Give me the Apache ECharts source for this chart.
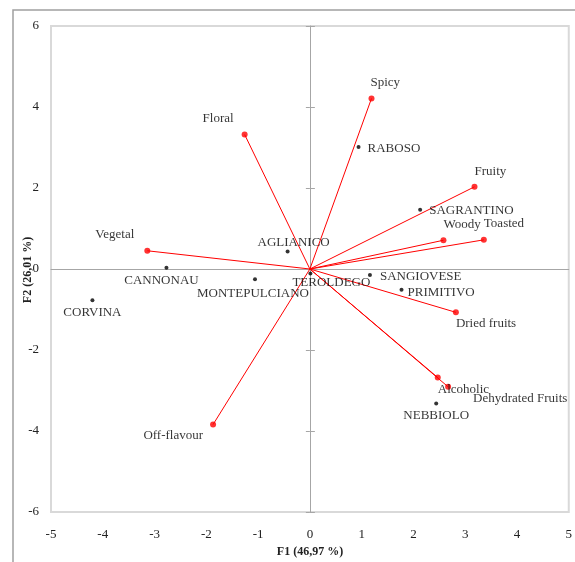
<!DOCTYPE html>
<html>
<head>
<meta charset="utf-8">
<script src="https://cdn.jsdelivr.net/npm/echarts@6/dist/echarts.min.js"></script>
<style>
html,body{margin:0;padding:0;background:#fff;}
#chart{width:575px;height:562px;}
</style>
</head>
<body>
<div id="chart"></div>
<script>
// ---- data ----
const variableNames = ['Spicy','Floral','Fruity','Woody','Toasted','Dried fruits','Vegetal','Off-flavour','Alcoholic','Dehydrated Fruits'];
const variableF1 = [1.19,-1.26,3.18,2.58,3.36,2.82,-3.14,-1.87,2.47,2.67];
const variableF2 = [4.21,3.32,2.03,0.71,0.72,-1.07,0.45,-3.84,-2.68,-2.91];

const wineNames = ['RABOSO','SAGRANTINO','AGLIANICO','CANNONAU','CORVINA','MONTEPULCIANO','TEROLDEGO','SANGIOVESE','PRIMITIVO','NEBBIOLO'];
const wineF1 = [0.94,2.13,-0.43,-2.77,-4.20,-1.06,0.01,1.16,1.77,2.44];
const wineF2 = [3.01,1.46,0.43,0.03,-0.77,-0.25,-0.11,-0.15,-0.51,-3.32];

const xMin = -5, xMax = 5, xStep = 1;
const yMin = -6, yMax = 6, yStep = 2;
const xTitle = 'F1 (46,97 %)';
const yTitle = 'F2 (26,01 %)';

// ---- label placement (layout only) ----
const labelLayout = {
  'Spicy': ['left', -1, -16],
  'Floral': ['right', -11, -16],
  'Fruity': ['left', 0, -15],
  'Woody': ['left', 0, -16],
  'Toasted': ['left', 0, -16],
  'Dried fruits': ['left', 0, 11],
  'Vegetal': ['right', -13, -16],
  'Off-flavour': ['right', -10, 11],
  'Alcoholic': ['left', 0, 12],
  'Dehydrated Fruits': ['left', 25, 12],
  'RABOSO': ['left', 9, 1],
  'SAGRANTINO': ['left', 9, 1],
  'AGLIANICO': ['center', 6, -9],
  'CANNONAU': ['center', -5, 13],
  'CORVINA': ['center', 0, 12],
  'MONTEPULCIANO': ['center', -2, 14],
  'TEROLDEGO': ['left', -18, 9],
  'SANGIOVESE': ['left', 10, 2],
  'PRIMITIVO': ['left', 6, 3],
  'NEBBIOLO': ['center', 0, 12]
};

const serif = '"Liberation Serif", "DejaVu Serif", serif';

function withLabel(name, value) {
  const l = labelLayout[name];
  return {
    name: name,
    value: value,
    label: {
      show: true,
      formatter: name,
      position: 'inside',
      align: l[0],
      verticalAlign: 'middle',
      offset: [l[1], l[2]],
      fontFamily: serif,
      fontSize: 13,
      color: '#000'
    }
  };
}

const varPoints = variableNames.map((n, i) => withLabel(n, [variableF1[i], variableF2[i]]));
const winePoints = wineNames.map((n, i) => withLabel(n, [wineF1[i], wineF2[i]]));
const vectorLines = variableNames.map((n, i) => ({ coords: [[0, 0], [variableF1[i], variableF2[i]]] }));

const chart = echarts.init(document.getElementById('chart'), null, { renderer: 'canvas' });

const gridLeft = 51, gridTop = 26, gridRight = 6, gridBottom = 50;

chart.setOption({
  animation: false,
  backgroundColor: '#fff',
  grid: {
    left: gridLeft, top: gridTop, right: gridRight, bottom: gridBottom,
    show: true, borderColor: '#d9d9d9', borderWidth: 2, backgroundColor: 'transparent'
  },
  xAxis: [
    {
      type: 'value', min: xMin, max: xMax, interval: xStep,
      axisLine: { show: false, onZero: false },
      axisTick: { show: false },
      splitLine: { show: false },
      axisLabel: { fontFamily: serif, fontSize: 13, color: '#222', margin: 16 }
    },
    {
      type: 'value', min: xMin, max: xMax, interval: xStep,
      axisLine: { show: true, onZero: true, lineStyle: { color: '#a6a6a6', width: 1 } },
      axisTick: { show: false },
      splitLine: { show: false },
      axisLabel: { show: false }
    }
  ],
  yAxis: [
    {
      type: 'value', min: yMin, max: yMax, interval: yStep, position: 'left',
      axisLine: { show: false, onZero: false },
      axisTick: { show: false },
      splitLine: { show: false },
      axisLabel: { fontFamily: serif, fontSize: 13, color: '#222', margin: 12 }
    },
    {
      type: 'value', min: yMin, max: yMax, interval: yStep, position: 'left',
      axisLine: { show: true, onZero: true, lineStyle: { color: '#a6a6a6', width: 1 } },
      axisTick: { show: true, inside: true, length: 5, lineStyle: { color: '#a6a6a6', width: 1 } },
      splitLine: { show: false },
      axisLabel: { show: false }
    },
    {
      type: 'value', min: yMin, max: yMax, interval: yStep, position: 'left',
      axisLine: { show: false, onZero: true },
      axisTick: { show: true, inside: false, length: 4, lineStyle: { color: '#a6a6a6', width: 1 } },
      splitLine: { show: false },
      axisLabel: { show: false }
    }
  ],
  series: [
    {
      type: 'lines',
      coordinateSystem: 'cartesian2d',
      xAxisIndex: 0, yAxisIndex: 0,
      data: vectorLines,
      lineStyle: { color: '#ff0000', width: 1, opacity: 1 },
      z: 3,
      silent: true
    },
    {
      type: 'scatter',
      xAxisIndex: 0, yAxisIndex: 0,
      data: varPoints,
      symbol: 'circle',
      symbolSize: 6,
      itemStyle: { color: '#ff0000' },
      z: 4
    },
    {
      type: 'scatter',
      xAxisIndex: 0, yAxisIndex: 0,
      data: winePoints,
      symbol: 'circle',
      symbolSize: 4,
      itemStyle: { color: '#000' },
      z: 5
    }
  ],
  graphic: [
    {
      type: 'rect',
      shape: { x: 13, y: 10, width: 700, height: 700 },
      style: { fill: 'none', stroke: '#a0a0a0', lineWidth: 1.5 },
      z: 100, silent: true
    },
    {
      type: 'text',
      x: 310, y: 552,
      style: { text: xTitle, fontFamily: serif, fontSize: 12, fontWeight: 'bold', fill: '#222', align: 'center', verticalAlign: 'middle' }
    },
    {
      type: 'text',
      x: 28, y: 270, rotation: Math.PI / 2,
      style: { text: yTitle, fontFamily: serif, fontSize: 12, fontWeight: 'bold', fill: '#222', align: 'center', verticalAlign: 'middle' }
    }
  ]
});
</script>
</body>
</html>
